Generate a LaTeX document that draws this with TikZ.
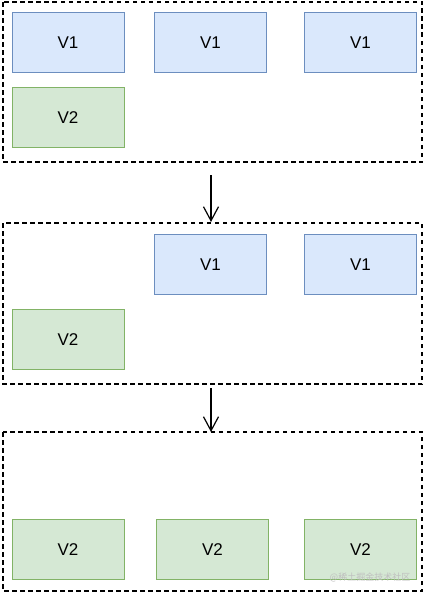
\documentclass[tikz,border=0pt]{standalone}
\usepackage{fontspec}
\setmainfont{Liberation Sans}
\newfontfamily\cjk{Noto Sans CJK SC}
\usetikzlibrary{arrows.meta}
\definecolor{bfill}{HTML}{DAE8FC}
\definecolor{bline}{HTML}{6C8EBF}
\definecolor{gfill}{HTML}{D5E8D4}
\definecolor{gline}{HTML}{82B366}
\tikzset{
  frame/.style={draw=black, line width=1.1pt, dash pattern=on 4.5pt off 3.5pt},
  vone/.style={draw=bline, fill=bfill, line width=1pt, minimum width=112pt, minimum height=60pt, inner sep=0pt, font=\fontsize{17pt}{19pt}\selectfont},
  vtwo/.style={draw=gline, fill=gfill, line width=1pt, minimum width=112pt, minimum height=60pt, inner sep=0pt, font=\fontsize{17pt}{19pt}\selectfont},
  flow/.style={draw=black, line width=1.2pt, -{Straight Barb[length=14pt,width=15pt,line width=1.2pt]}}
}
\begin{document}
\begin{tikzpicture}[x=1pt,y=-1pt]
\useasboundingbox (0,0) rectangle (425,597);
% frames
\draw[frame] (3,2) rectangle (422,162);
\draw[frame] (3,223) rectangle (422,384);
\draw[frame] (3,432) rectangle (422,591);
% panel 1
\node[vone] (a1) at (68,42.5) {V1};
\node[vone] (a2) at (210.5,42.5) {V1};
\node[vone] (a3) at (360.5,42.5) {V1};
\node[vtwo] (a4) at (68,117.5) {V2};
% panel 2
\node[vone] (b2) at (210.5,264.5) {V1};
\node[vone] (b3) at (360.5,264.5) {V1};
\node[vtwo] (b4) at (68,339.5) {V2};
% panel 3
\node[vtwo] (c1) at (68,549.5) {V2};
\node[vtwo] (c2) at (212.5,549.5) {V2};
\node[vtwo] (c3) at (360.5,549.5) {V2};
% arrows
\coordinate (s1) at (211,175);
\coordinate (e1) at (211,222);
\coordinate (s2) at (211,388);
\coordinate (e2) at (211,432);
\draw[flow] (s1) -- (e1);
\draw[flow] (s2) -- (e2);
% watermark
\node[text=black!25, font=\cjk\fontsize{9pt}{10pt}\selectfont, inner sep=0pt] (wm) at (370,577) {@稀土掘金技术社区};
\end{tikzpicture}
\end{document}
